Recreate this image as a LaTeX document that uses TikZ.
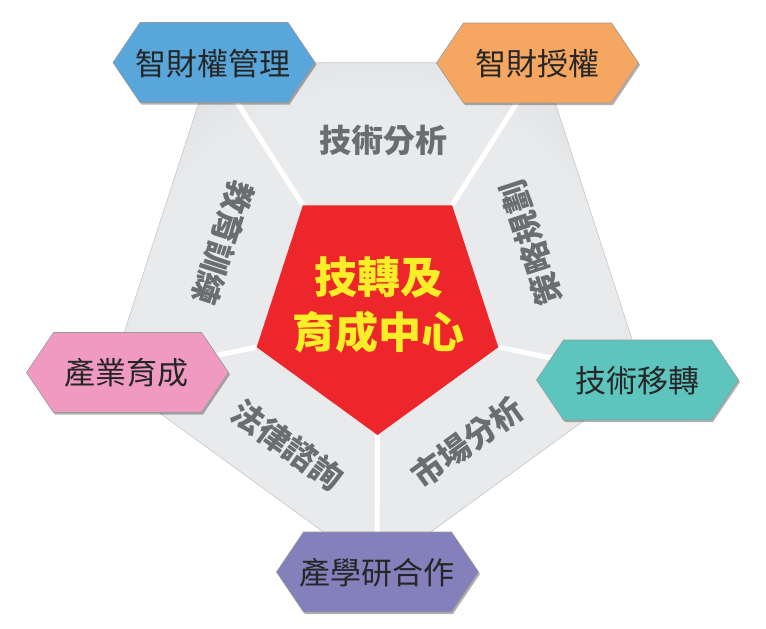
\documentclass[tikz,border=0pt]{standalone}
\usepackage{fontspec}
\newfontfamily\cjk{Noto Sans CJK TC}
\usetikzlibrary{shadows,calc}
\definecolor{hexblue}{RGB}{88,166,218}
\definecolor{hexorange}{RGB}{245,166,96}
\definecolor{hexpink}{RGB}{240,154,194}
\definecolor{hexteal}{RGB}{94,196,190}
\definecolor{hexpurple}{RGB}{132,128,188}
\definecolor{redc}{RGB}{236,38,43}
\definecolor{yel}{RGB}{250,238,40}
\definecolor{graytext}{RGB}{108,109,112}
\definecolor{grayin}{RGB}{233,234,236}
\definecolor{grayout}{RGB}{198,199,202}
\definecolor{hextext}{RGB}{38,38,38}
\pgfdeclareradialshading{secshade}{\pgfpoint{0bp}{0bp}}{color(0bp)=(grayin); color(22bp)=(grayin); color(48bp)=(grayout); color(50bp)=(grayout)}
\tikzset{
  hexbox/.style={draw=black!40, line width=0.6pt,
    drop shadow={shadow xshift=1.5pt, shadow yshift=-2pt, opacity=0.3, fill=black}},
  hexlabel/.style={font=\cjk\fontsize{31}{31}\selectfont, text=hextext, inner sep=0pt},
  seclabel/.style={font=\cjk\bfseries\fontsize{32}{32}\selectfont, text=graytext, inner sep=0pt},
  spoke/.style={white, line width=5pt},
  centertext/.style={font=\cjk\bfseries\fontsize{43}{55}\selectfont, align=center, inner sep=0pt},
}
\newcommand\hexshape[3]{%
  \path[hexbox, fill=#3] (#1,#2) ++(-101,0) -- ++(27,-40) -- ++(148,0) -- ++(27,40)
    -- ++(-27,40) -- ++(-148,0) -- cycle;}
\begin{document}
\begin{tikzpicture}[x=1pt, y=-1pt]
\useasboundingbox (0,0) rectangle (766,629);
% outer pentagon vertices
\coordinate (o1) at (211.8,62.7);
\coordinate (o2) at (542.2,62.7);
\coordinate (o3) at (644.2,376.8);
\coordinate (o4) at (377,571);
\coordinate (o5) at (109.8,376.8);
% red pentagon vertices
\coordinate (r1) at (302.9,205.3);
\coordinate (r2) at (452.1,205.3);
\coordinate (r3) at (498.3,347.2);
\coordinate (r4) at (377.5,435);
\coordinate (r5) at (256.7,347.2);
% gray pentagon
\shade[shading=secshade, draw=black!22, line width=0.6pt] (o1) -- (o2) -- (o3) -- (o4) -- (o5) -- cycle;
% spokes
\draw[spoke] (r1) -- (o1);
\draw[spoke] (r2) -- (o2);
\draw[spoke] (r3) -- (o3);
\draw[spoke] (r4) -- (o4);
\draw[spoke] (r5) -- (o5);
% red pentagon
\fill[redc] (r1) -- (r2) -- (r3) -- (r4) -- (r5) -- cycle;
% section labels
\node[seclabel] (s1) at (383,140) {技術分析};
\node[seclabel, rotate=108] (s2) at (531,243) {策略規劃};
\node[seclabel, rotate=-108] (s3) at (223,243) {教育訓練};
\node[seclabel, rotate=-36] (s4) at (288,445) {法律諮詢};
\node[seclabel, rotate=36] (s5) at (467,442) {市場分析};
% hexagons
\hexshape{214}{62.5}{hexblue}
\hexshape{537.5}{63}{hexorange}
\hexshape{127.5}{372.5}{hexpink}
\hexshape{637.5}{380}{hexteal}
\hexshape{377.5}{572}{hexpurple}
\node[hexlabel] (h1) at (213,64) {智財權管理};
\node[hexlabel] (h2) at (537,64) {智財授權};
\node[hexlabel] (h3) at (126,373) {產業育成};
\node[hexlabel] (h4) at (637,381) {技術移轉};
\node[hexlabel] (h5) at (377,573) {產學研合作};
% center text
\node[centertext, text=yel] (c) at (378.5,305) {技轉及\\育成中心};
\end{tikzpicture}
\end{document}
